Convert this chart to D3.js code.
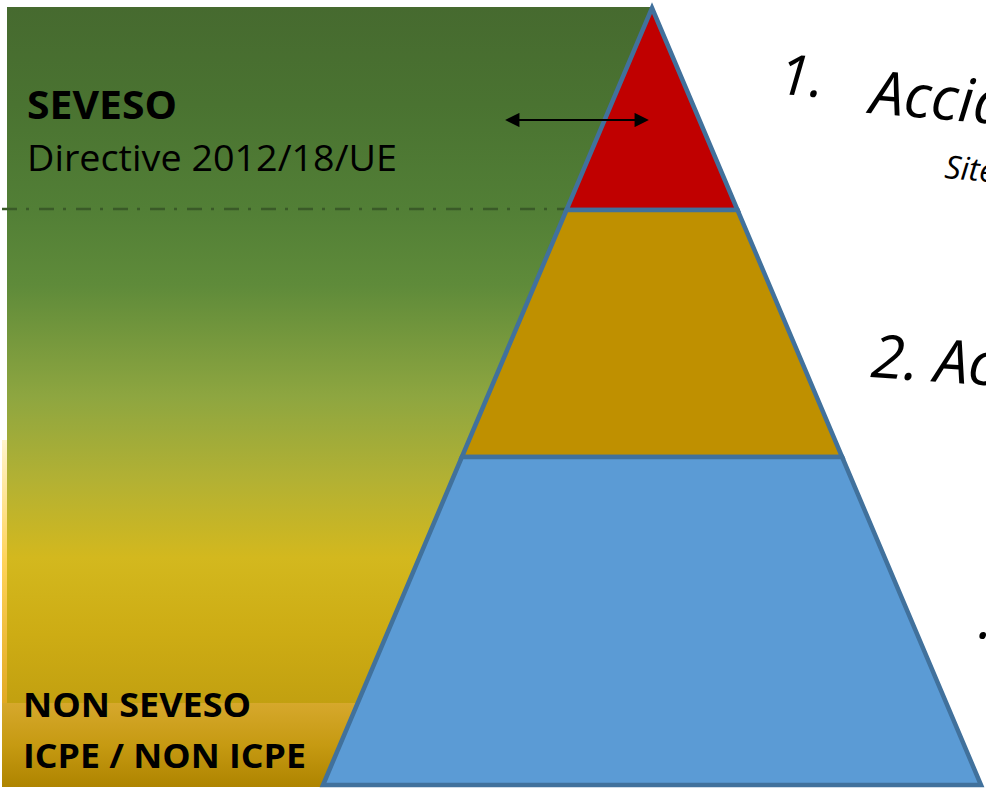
<!DOCTYPE html>
<html>
<head>
<meta charset="utf-8">
<script src="https://cdn.jsdelivr.net/npm/d3@7"></script>
<style>
  body { margin: 0; background: #fff; }
  #chart { width: 986px; height: 792px; overflow: hidden; }
  text { font-family: "Open Sans", "DejaVu Sans", sans-serif; }
</style>
</head>
<body>
<div id="chart"></div>
<script>
// pyramid tiers, from the top (level = share of pyramid height)
var tierNames = ["Accidents majeurs", "Accidents", "Incidents"];
var tierLevels = [0, 0.26, 0.578, 1];
var tierColors = ["#c00000", "#bf9000", "#5b9bd5"];

// labels on the left
var zoneTitles = ["SEVESO", "NON SEVESO"];
var zoneSubtitles = ["Directive 2012/18/UE", "ICPE / NON ICPE"];

// labels on the right (cut by the frame)
var rightLabels = ["1.", "Accidents majeurs", "Sites SEVESO", "2. Accidents", "."];

var chartDiv = document.getElementById("chart");
var svg = d3.select(chartDiv).append("svg")
  .attr("width", 986)
  .attr("height", 792);

var defs = svg.append("defs");

// level scale : 0 = apex, 1 = base
let yScale = d3.scaleLinear().domain([0, 1]).range([8, 785]);
let halfWidth = d3.scaleLinear().domain([0, 1]).range([0, 329]);
let apexX = 652;

function addGradient(id, stops) {
  var g = defs.append("linearGradient")
    .attr("id", id)
    .attr("x1", 0).attr("y1", 0).attr("x2", 0).attr("y2", 1);
  stops.forEach(function(s) {
    g.append("stop").attr("offset", s[0]).attr("stop-color", s[1]);
  });
}

addGradient("gStrip", [[0, "#fff4cc"], [0.35, "#ffd35a"], [0.75, "#e2aa24"], [1, "#c89400"]]);
addGradient("gGreen", [
  [0, "#466a2f"], [0.14, "#4a7331"], [0.29, "#527f36"], [0.40, "#5f8b3a"],
  [0.56, "#8ea640"], [0.68, "#b3b133"], [0.79, "#d3b81e"], [0.9, "#cdac14"], [1, "#c2a010"]
]);
addGradient("gGold", [[0, "#d6a82c"], [0.5, "#c69a12"], [1, "#ae8400"]]);

// background zones
svg.append("rect")
  .attr("x", 2).attr("y", 440).attr("width", 20).attr("height", 347)
  .attr("fill", "url(#gStrip)");

svg.append("rect")
  .attr("x", 7).attr("y", 7).attr("width", 645).attr("height", 697)
  .attr("fill", "url(#gGreen)");

svg.append("rect")
  .attr("x", 2).attr("y", 703).attr("width", 362).attr("height", 84)
  .attr("fill", "url(#gGold)");

// SEVESO threshold line
svg.append("line")
  .attr("x1", 2).attr("x2", apexX - halfWidth(tierLevels[1]))
  .attr("y1", yScale(tierLevels[1]) - 1).attr("y2", yScale(tierLevels[1]) - 1)
  .attr("stroke", "#3a5a28")
  .attr("stroke-width", 2.5)
  .attr("stroke-dasharray", "15,9,3,10");

// pyramid
var tiers = tierNames.map(function(name, i) {
  return { name: name, top: tierLevels[i], bottom: tierLevels[i + 1], color: tierColors[i] };
});

var line = d3.line();

svg.selectAll("path.tier")
  .data(tiers)
  .enter()
  .append("path")
    .attr("class", "tier")
    .attr("d", function(d) {
      var yt = yScale(d.top), yb = yScale(d.bottom);
      return line([
        [apexX - halfWidth(d.top), yt],
        [apexX + halfWidth(d.top), yt],
        [apexX + halfWidth(d.bottom), yb],
        [apexX - halfWidth(d.bottom), yb]
      ]) + "Z";
    })
    .attr("fill", function(d) { return d.color; })
    .attr("stroke", "#41719c")
    .attr("stroke-width", 4.5)
    .attr("stroke-linejoin", "miter");

// double arrow
defs.append("marker")
  .attr("id", "arrowHead")
  .attr("viewBox", "0 0 10 10")
  .attr("refX", 8).attr("refY", 5)
  .attr("markerWidth", 7).attr("markerHeight", 6.5)
  .attr("markerUnits", "strokeWidth")
  .attr("orient", "auto-start-reverse")
  .append("path")
    .attr("d", "M0,0 L10,5 L0,10 Z")
    .attr("fill", "#000");

svg.append("line")
  .attr("x1", 508).attr("x2", 646)
  .attr("y1", 120).attr("y2", 120)
  .attr("stroke", "#000")
  .attr("stroke-width", 2.2)
  .attr("marker-start", "url(#arrowHead)")
  .attr("marker-end", "url(#arrowHead)");

// left labels
svg.append("text")
  .attr("x", 27).attr("y", 119)
  .attr("font-size", 40).attr("font-weight", "bold")
  .attr("textLength", 150).attr("lengthAdjust", "spacingAndGlyphs")
  .text(zoneTitles[0]);

svg.append("text")
  .attr("x", 27).attr("y", 171)
  .attr("font-size", 37)
  .attr("textLength", 370).attr("lengthAdjust", "spacingAndGlyphs")
  .text(zoneSubtitles[0]);

svg.append("text")
  .attr("x", 23).attr("y", 717)
  .attr("font-size", 34).attr("font-weight", "bold")
  .attr("textLength", 228).attr("lengthAdjust", "spacingAndGlyphs")
  .text(zoneTitles[1]);

svg.append("text")
  .attr("x", 23).attr("y", 768)
  .attr("font-size", 34).attr("font-weight", "bold")
  .attr("textLength", 283).attr("lengthAdjust", "spacingAndGlyphs")
  .text(zoneSubtitles[1]);

// right labels, slightly tilted
var rightPos = [
  { x: 778, y: 94, size: 56, rot: 4 },
  { x: 869, y: 113, size: 60, rot: 5 },
  { x: 944, y: 178, size: 32, rot: 5 },
  { x: 870, y: 377, size: 60, rot: 4 },
  { x: 978, y: 638, size: 56, rot: 4 }
];

svg.selectAll("text.right")
  .data(rightLabels)
  .enter()
  .append("text")
    .attr("class", "right")
    .attr("x", function(d, i) { return rightPos[i].x; })
    .attr("y", function(d, i) { return rightPos[i].y; })
    .attr("font-size", function(d, i) { return rightPos[i].size; })
    .attr("font-style", "italic")
    .attr("transform", function(d, i) {
      return "rotate(" + rightPos[i].rot + "," + rightPos[i].x + "," + rightPos[i].y + ")";
    })
    .attr("fill", "#000")
    .text(function(d) { return d; });
</script>
</body>
</html>
